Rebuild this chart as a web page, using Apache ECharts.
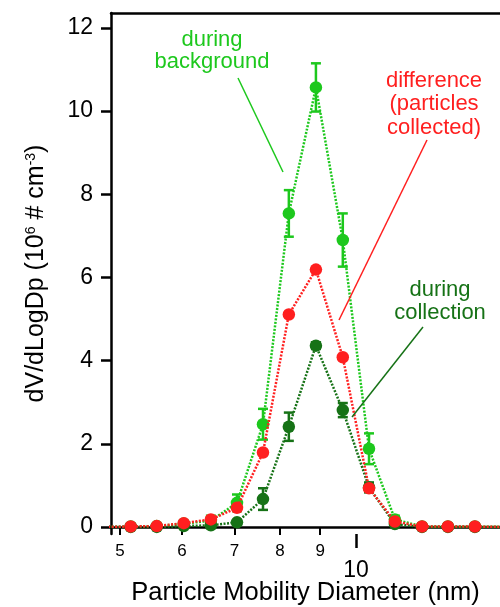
<!DOCTYPE html>
<html>
<head>
<meta charset="utf-8">
<script src="https://cdn.jsdelivr.net/npm/echarts@6/dist/echarts.min.js"></script>
<style>html,body{margin:0;padding:0;background:#fff}#c{width:500px;height:607px}</style>
</head>
<body>
<div id="c"></div>
<script>
// Particle mobility diameters (nm), log-spaced bins (first/last lie just outside the plot)
const diameters = [4.78, 5.16, 5.57, 6.03, 6.53, 7.05, 7.61, 8.21, 8.89, 9.62, 10.39, 11.21, 12.14, 13.10, 14.18, 15.34];
// dV/dLogDp (10^6 # cm^-3)
const backgroundVals = [0, 0.01, 0.02, 0.08, 0.15, 0.58, 2.47, 7.54, 10.57, 6.90, 1.88, 0.18, 0.01, 0.01, 0.01, 0];
const backgroundErr  = [0, 0, 0, 0.04, 0.12, 0.20, 0.37, 0.56, 0.58, 0.64, 0.37, 0.09, 0, 0, 0, 0];
const collectionVals = [0, 0, 0, 0.02, 0.04, 0.11, 0.67, 2.41, 4.36, 2.81, 0.95, 0.07, 0, 0, 0, 0];
const collectionErr  = [0, 0, 0, 0, 0.02, 0.03, 0.26, 0.34, 0.08, 0.17, 0.12, 0.04, 0, 0, 0, 0];
const differenceVals = [0, 0.01, 0.02, 0.09, 0.18, 0.46, 1.79, 5.11, 6.19, 4.08, 0.93, 0.13, 0.01, 0.01, 0.01, 0];
const minorTickLabels = [5, 6, 7, 8, 9];
const majorTickLabels = [10];
const yTickLabels = [0, 2, 4, 6, 8, 10, 12];

const FONT = "'Liberation Sans', Arial, Helvetica, sans-serif";
const C_BG = '#1dc81d', C_COL = '#167216', C_DIFF = '#ff1f1f';
const X_MIN = 0.6875, X_MAX = 1.1837;

const lg = v => Math.log10(v);
const pts = vals => diameters.map((d, i) => [lg(d), vals[i]]);
const errPts = (vals, errs) => diameters.map((d, i) => [lg(d), vals[i], errs[i]]);

function errRender(color) {
  return function (params, api) {
    const x = api.value(0), y = api.value(1), e = api.value(2);
    if (!e) return null;
    const top = api.coord([x, y + e]);
    const bot = api.coord([x, y - e]);
    const hw = 5;
    const st = { stroke: color, lineWidth: 2.5 };
    return {
      type: 'group',
      children: [
        { type: 'line', shape: { x1: top[0], y1: top[1], x2: bot[0], y2: bot[1] }, style: st },
        { type: 'line', shape: { x1: top[0] - hw, y1: top[1], x2: top[0] + hw, y2: top[1] }, style: st },
        { type: 'line', shape: { x1: bot[0] - hw, y1: bot[1], x2: bot[0] + hw, y2: bot[1] }, style: st }
      ]
    };
  };
}

const chart = echarts.init(document.getElementById('c'));
const axisLineStyle = { color: '#000', width: 2.5 };
chart.setOption({
  animation: false,
  backgroundColor: '#fff',
  textStyle: { fontFamily: FONT },
  grid: { left: 111, top: 13, right: 0, bottom: 73, containLabel: false, outerBoundsMode: 'none' },
  xAxis: [
    {
      type: 'value', position: 'bottom', min: X_MIN, max: X_MAX,
      axisLine: { show: true, lineStyle: axisLineStyle },
      axisTick: { show: true, inside: false, length: 8, lineStyle: { color: '#000', width: 2 }, customValues: minorTickLabels.map(lg) },
      axisLabel: { show: true, margin: 9, fontSize: 17, color: '#000', fontFamily: FONT,
        customValues: minorTickLabels.map(lg), formatter: v => String(Math.round(Math.pow(10, v))) },
      splitLine: { show: false },
      name: 'Particle Mobility Diameter (nm)', nameLocation: 'middle', nameGap: 46,
      nameTextStyle: { fontSize: 25.5, color: '#000', fontFamily: FONT }
    },
    {
      type: 'value', position: 'bottom', min: X_MIN, max: X_MAX,
      axisLine: { show: false },
      axisTick: { show: true, inside: false, length: 14, lineStyle: { color: '#000', width: 2.5 }, customValues: majorTickLabels.map(lg) },
      axisLabel: { show: true, margin: 25, fontSize: 23, color: '#000', fontFamily: FONT,
        customValues: majorTickLabels.map(lg), formatter: v => String(Math.round(Math.pow(10, v))) },
      splitLine: { show: false }
    },
    {
      type: 'value', position: 'top', min: X_MIN, max: X_MAX,
      axisLine: { show: true, lineStyle: axisLineStyle },
      axisTick: { show: false }, axisLabel: { show: false }, splitLine: { show: false }
    }
  ],
  yAxis: [{
    type: 'value', min: -0.17, max: 12.36,
    axisLine: { show: true, lineStyle: axisLineStyle },
    axisTick: { show: true, inside: false, length: 10, lineStyle: { color: '#000', width: 2.5 }, customValues: yTickLabels },
    axisLabel: { show: true, margin: 18, fontSize: 23, color: '#000', fontFamily: FONT, customValues: yTickLabels },
    splitLine: { show: false },
    name: 'dV/dLogDp (10{s|6} # cm{s|-3})', nameLocation: 'middle', nameGap: 62, nameRotate: 90,
    nameTextStyle: { fontSize: 25, color: '#000', fontFamily: FONT,
      rich: { s: { fontSize: 14, verticalAlign: 'top', color: '#000', fontFamily: FONT, padding: [0, 0, 8, 0] } } }
  }],
  series: [
    { name: 'during background', type: 'line', xAxisIndex: 0, data: pts(backgroundVals), z: 2,
      symbol: 'circle', symbolSize: 12.5, itemStyle: { color: C_BG },
      lineStyle: { color: C_BG, width: 2.5, type: [2, 1.5] }, clip: true },
    { type: 'custom', xAxisIndex: 0, data: errPts(backgroundVals, backgroundErr), z: 2, clip: true,
      renderItem: errRender(C_BG), encode: { x: 0, y: 1 } },
    { name: 'during collection', type: 'line', xAxisIndex: 0, data: pts(collectionVals), z: 3,
      symbol: 'circle', symbolSize: 12.5, itemStyle: { color: C_COL },
      lineStyle: { color: C_COL, width: 2.5, type: [2, 1.5] }, clip: true },
    { type: 'custom', xAxisIndex: 0, data: errPts(collectionVals, collectionErr), z: 3, clip: true,
      renderItem: errRender(C_COL), encode: { x: 0, y: 1 } },
    { name: 'difference', type: 'line', xAxisIndex: 0, data: pts(differenceVals), z: 4,
      symbol: 'circle', symbolSize: 12.5, itemStyle: { color: C_DIFF },
      lineStyle: { color: C_DIFF, width: 2.5, type: [2, 1.5] }, clip: true }
  ],
  graphic: [
    { type: 'text', x: 212, y: 29, z: 10,
      style: { text: 'during\nbackground', fill: C_BG, font: '22px ' + FONT, textAlign: 'center', textVerticalAlign: 'top', lineHeight: 22 } },
    { type: 'line', z: 10, shape: { x1: 238, y1: 78, x2: 283, y2: 172 }, style: { stroke: C_BG, lineWidth: 1.5 } },
    { type: 'text', x: 434, y: 69, z: 10,
      style: { text: 'difference\n(particles\ncollected)', fill: C_DIFF, font: '22px ' + FONT, textAlign: 'center', textVerticalAlign: 'top', lineHeight: 23.5 } },
    { type: 'line', z: 10, shape: { x1: 427, y1: 140, x2: 339, y2: 320 }, style: { stroke: C_DIFF, lineWidth: 1.5 } },
    { type: 'text', x: 440, y: 279, z: 10,
      style: { text: 'during\ncollection', fill: C_COL, font: '22px ' + FONT, textAlign: 'center', textVerticalAlign: 'top', lineHeight: 22.5 } },
    { type: 'line', z: 10, shape: { x1: 423, y1: 327, x2: 352, y2: 417 }, style: { stroke: C_COL, lineWidth: 1.5 } }
  ]
});
</script>
</body>
</html>
